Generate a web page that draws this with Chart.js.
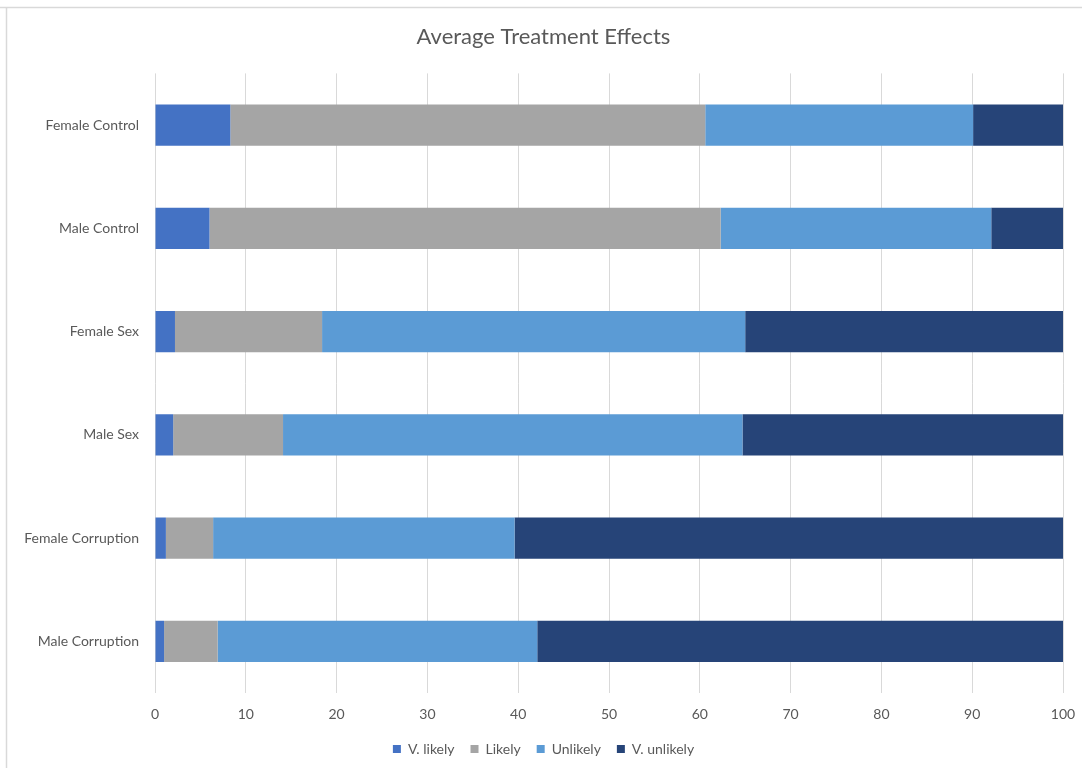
<!DOCTYPE html>
<html>
<head>
<meta charset="utf-8">
<script src="https://cdn.jsdelivr.net/npm/chart.js@4.4.1/dist/chart.umd.min.js"></script>
<style>
  html, body { margin: 0; padding: 0; background: #ffffff; }
  #wrap { position: relative; width: 1082px; height: 768px; }
</style>
</head>
<body>
<div id="wrap"><canvas id="chart" width="1082" height="768"></canvas></div>
<script>
// Share of responses (%) per treatment group
const categories = ['Female Control', 'Male Control', 'Female Sex', 'Male Sex', 'Female Corruption', 'Male Corruption'];
const vLikely   = [8.3, 6.0, 2.2, 2.0, 1.2, 1.0];
const likely    = [52.3, 56.3, 16.2, 12.1, 5.2, 5.9];
const unlikely  = [29.5, 29.8, 46.6, 50.6, 33.2, 35.2];
const vUnlikely = [9.9, 7.9, 35.0, 35.3, 60.4, 57.9];
const xTicks = [0, 10, 20, 30, 40, 50, 60, 70, 80, 90, 100];

const textColor = '#595959';
const fontFamily = 'Lato, "Liberation Sans", sans-serif';

// Thin outer frame around the chart object
const framePlugin = {
  id: 'frame',
  beforeDraw(chart) {
    const ctx = chart.ctx;
    ctx.save();
    ctx.fillStyle = '#ffffff';
    ctx.fillRect(0, 0, chart.width, chart.height);
    ctx.strokeStyle = '#d9d9d9';
    ctx.lineWidth = 1.5;
    ctx.beginPath();
    ctx.moveTo(0, 7.5);
    ctx.lineTo(chart.width, 7.5);
    ctx.moveTo(6.5, 7.5);
    ctx.lineTo(6.5, chart.height);
    ctx.stroke();
    ctx.restore();
  }
};

new Chart(document.getElementById('chart'), {
  type: 'bar',
  data: {
    labels: categories,
    datasets: [
      { label: 'V. likely',   data: vLikely,   backgroundColor: '#4472C4' },
      { label: 'Likely',      data: likely,    backgroundColor: '#A5A5A5' },
      { label: 'Unlikely',    data: unlikely,  backgroundColor: '#5B9BD5' },
      { label: 'V. unlikely', data: vUnlikely, backgroundColor: '#264478' }
    ]
  },
  plugins: [framePlugin],
  options: {
    indexAxis: 'y',
    responsive: false,
    animation: false,
    devicePixelRatio: 1,
    layout: { padding: { left: 24, right: 19, top: 0, bottom: 2 } },
    datasets: {
      bar: { categoryPercentage: 1.0, barPercentage: 0.4, borderWidth: 0 }
    },
    scales: {
      x: {
        stacked: true,
        min: 0,
        max: 100,
        afterBuildTicks(scale) { scale.ticks = xTicks.map(v => ({ value: v })); },
        afterFit(scale) {
          scale.paddingLeft = 0;
          scale.paddingRight = 0;
          scale.height = 33;
        },
        grid: { color: '#d9d9d9', lineWidth: 1, drawTicks: false },
        border: { display: false },
        ticks: { color: textColor, font: { family: fontFamily, size: 14 }, padding: 13, maxRotation: 0 }
      },
      y: {
        stacked: true,
        grid: { display: false, drawTicks: false },
        border: { display: false },
        afterFit(scale) { scale.width = 131; },
        ticks: { color: textColor, font: { family: fontFamily, size: 14 }, padding: 16 }
      }
    },
    plugins: {
      title: {
        display: true,
        text: 'Average Treatment Effects',
        color: textColor,
        font: { family: fontFamily, size: 22, weight: 'normal' },
        padding: { top: 24, bottom: 23 }
      },
      legend: {
        position: 'bottom',
        labels: {
          color: textColor,
          font: { family: fontFamily, size: 14 },
          boxWidth: 8,
          boxHeight: 8,
          padding: 16
        }
      },
      tooltip: { enabled: false }
    }
  }
});
</script>
</body>
</html>
